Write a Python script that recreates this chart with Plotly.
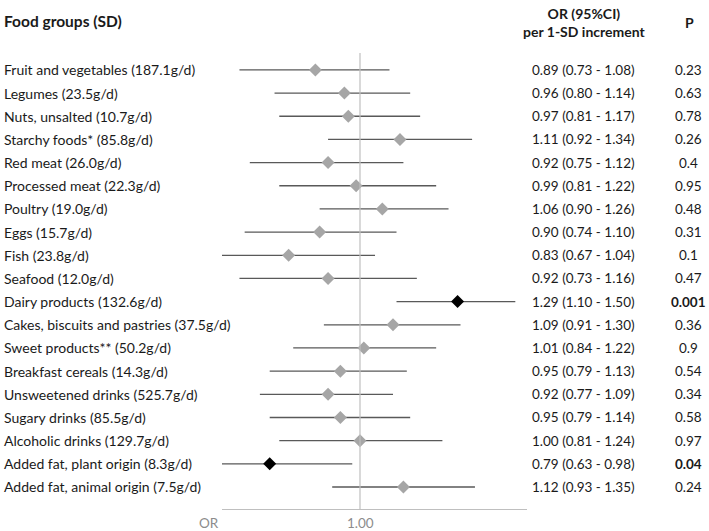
import plotly.graph_objects as go
import math

labels = ["Fruit and vegetables (187.1g/d)", "Legumes (23.5g/d)", "Nuts, unsalted (10.7g/d)",
          "Starchy foods* (85.8g/d)", "Red meat (26.0g/d)", "Processed meat (22.3g/d)",
          "Poultry (19.0g/d)", "Eggs (15.7g/d)", "Fish (23.8g/d)", "Seafood (12.0g/d)",
          "Dairy products (132.6g/d)", "Cakes, biscuits and pastries (37.5g/d)",
          "Sweet products** (50.2g/d)", "Breakfast cereals (14.3g/d)",
          "Unsweetened drinks (525.7g/d)", "Sugary drinks (85.5g/d)",
          "Alcoholic drinks (129.7g/d)", "Added fat, plant origin (8.3g/d)",
          "Added fat, animal origin (7.5g/d)"]
or_vals = [0.89, 0.96, 0.97, 1.11, 0.92, 0.99, 1.06, 0.90, 0.83, 0.92, 1.29, 1.09, 1.01, 0.95, 0.92, 0.95, 1.00, 0.79, 1.12]
ci_low = [0.73, 0.80, 0.81, 0.92, 0.75, 0.81, 0.90, 0.74, 0.67, 0.73, 1.10, 0.91, 0.84, 0.79, 0.77, 0.79, 0.81, 0.63, 0.93]
ci_high = [1.08, 1.14, 1.17, 1.34, 1.12, 1.22, 1.26, 1.10, 1.04, 1.16, 1.50, 1.30, 1.22, 1.13, 1.09, 1.14, 1.24, 0.98, 1.35]
p_vals = ["0.23", "0.63", "0.78", "0.26", "0.4", "0.95", "0.48", "0.31", "0.1", "0.47", "0.001", "0.36", "0.9", "0.54", "0.34", "0.58", "0.97", "0.04", "0.24"]
significant = [False]*10 + [True] + [False]*6 + [True, False]

FONT = "Lato"
TXT = "#1a1a1a"
W, H = 709, 531
L, R, T, B = 222, 527, 53, 509
n = len(labels)
rows = list(range(n))

def px(xp):
    return (xp - L) / (R - L)

def py(yp):
    return (B - yp) / (B - T)

fig = go.Figure()

# whiskers
wx, wy = [], []
for i in rows:
    wx += [ci_low[i], ci_high[i], None]
    wy += [i, i, None]
fig.add_trace(go.Scatter(x=wx, y=wy, mode="lines", line=dict(color="#595959", width=1.3),
                         hoverinfo="skip", showlegend=False))

fig.add_trace(go.Scatter(x=or_vals, y=rows, mode="markers",
                         marker=dict(symbol="diamond", size=10,
                                     color=["#000000" if s else "#a6a6a6" for s in significant],
                                     line=dict(width=0)),
                         showlegend=False))

fig.add_shape(type="line", xref="x", yref="paper", x0=1, x1=1, y0=0, y1=1,
              line=dict(color="#bfbfbf", width=1.2))

ann = []
for i in rows:
    ann.append(dict(x=px(2), xref="paper", y=i, yref="y", text=labels[i], showarrow=False,
                    xanchor="left", yanchor="middle", font=dict(family=FONT, size=14, color=TXT)))
    ann.append(dict(x=px(583), xref="paper", y=i, yref="y",
                    text=f"{or_vals[i]:.2f} ({ci_low[i]:.2f} - {ci_high[i]:.2f})", showarrow=False,
                    xanchor="center", yanchor="middle", font=dict(family=FONT, size=13.5, color=TXT)))
    t = f"<b>{p_vals[i]}</b>" if significant[i] else p_vals[i]
    ann.append(dict(x=px(688), xref="paper", y=i, yref="y", text=t, showarrow=False,
                    xanchor="center", yanchor="middle", font=dict(family=FONT, size=13.5, color=TXT)))

ann.append(dict(x=px(2), xref="paper", y=py(21), yref="paper", text="<b>Food groups (SD)</b>",
                showarrow=False, xanchor="left", yanchor="middle",
                font=dict(family=FONT, size=15.5, color=TXT)))
ann.append(dict(x=px(584), xref="paper", y=py(22), yref="paper",
                text="<b>OR (95%CI)</b><br><b>per 1-SD increment</b>",
                showarrow=False, xanchor="center", yanchor="middle",
                font=dict(family=FONT, size=14, color=TXT)))
ann.append(dict(x=px(689), xref="paper", y=py(22), yref="paper", text="<b>P</b>",
                showarrow=False, xanchor="center", yanchor="middle",
                font=dict(family=FONT, size=14, color=TXT)))
ann.append(dict(x=px(209), xref="paper", y=py(523), yref="paper", text="OR",
                showarrow=False, xanchor="center", yanchor="middle",
                font=dict(family=FONT, size=13.5, color="#8c8c8c")))
ann.append(dict(x=px(360), xref="paper", y=py(523), yref="paper", text="1.00",
                showarrow=False, xanchor="center", yanchor="middle",
                font=dict(family=FONT, size=13.5, color="#8c8c8c")))

rng_lo = math.log10(1.0) - (360 - L) / 882.0
rng_hi = rng_lo + (R - L) / 882.0

fig.update_layout(
    width=W, height=H,
    margin=dict(l=L, r=W - R, t=T, b=H - B, pad=0),
    paper_bgcolor="white", plot_bgcolor="white",
    annotations=ann,
    xaxis=dict(type="log", range=[rng_lo, rng_hi], showgrid=False, zeroline=False,
               showticklabels=False, ticks="", showline=True, linecolor="#bfbfbf", linewidth=1.2),
    yaxis=dict(range=[n - 1 + 0.95, -0.73], showgrid=False, zeroline=False,
               showticklabels=False, ticks="", showline=False),
    showlegend=False,
)

fig.write_html("out.html", config={"displayModeBar": False},
               post_script="document.body.style.margin='0px';document.body.style.overflow='hidden';")
